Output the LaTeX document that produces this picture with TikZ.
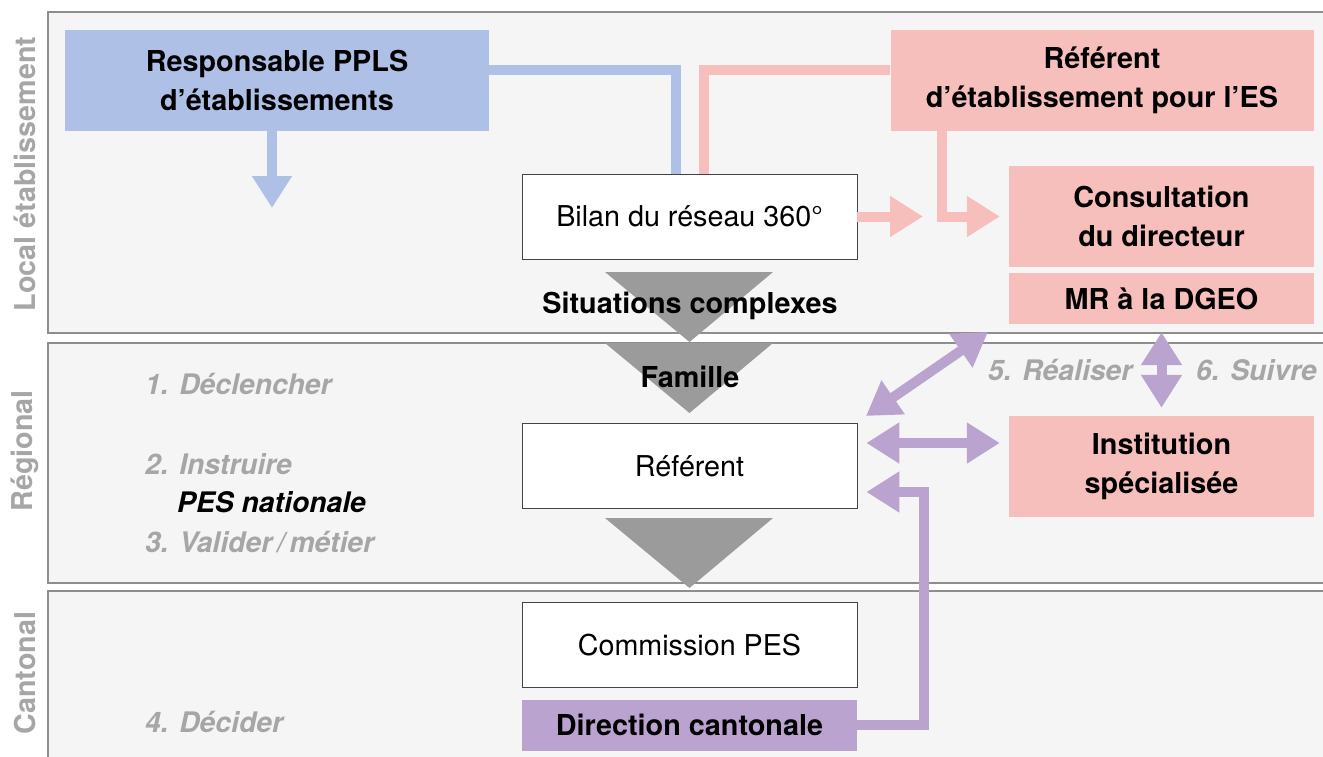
\documentclass[tikz,border=0pt]{standalone}
\usepackage{fontspec}
\setmainfont{TeX Gyre Heros}
\usetikzlibrary{arrows.meta}
\definecolor{bandfill}{HTML}{F5F5F5}
\definecolor{bandline}{HTML}{8E8E8E}
\definecolor{blueC}{HTML}{AFC0E6}
\definecolor{pinkC}{HTML}{F7BFBC}
\definecolor{purpC}{HTML}{BBA3CF}
\definecolor{triC}{HTML}{9B9B9B}
\definecolor{labC}{HTML}{A6A6A6}
\definecolor{boxline}{HTML}{444444}
\tikzset{
  band/.style={draw=bandline,line width=1.3pt},
  sidelab/.style={rotate=90,text=labC,font=\fontsize{28.7}{30}\selectfont\bfseries},
  steplab/.style={anchor=west,text=labC,font=\fontsize{28.3}{30}\selectfont\bfseries\itshape,inner sep=0pt},
  colbox/.style={inner sep=0pt,align=center,font=\fontsize{28.8}{38.5}\selectfont\bfseries},
  whitebox/.style={fill=white,draw=boxline,line width=0.8pt,inner sep=0pt,align=center,
     minimum width=335pt,minimum height=85pt,font=\fontsize{28.7}{32}\selectfont},
  funnel/.style={fill=triC},
  boldlab/.style={font=\fontsize{28.8}{32}\selectfont\bfseries,inner sep=0pt},
  tip/.tip={Triangle[length=33pt,width=39pt]},
  bluearrow/.style={draw=blueC,line width=10pt},
  pinkarrow/.style={draw=pinkC,line width=10pt},
  purparrow/.style={draw=purpC,line width=10pt},
}
\begin{document}
\begin{tikzpicture}[x=1pt,y=-1pt]
\useasboundingbox (0,0) rectangle (1323,756);
\clip (0,0) rectangle (1323,756);
% bands
\fill[bandfill] (48,12) rectangle (1330,333);
\fill[bandfill] (48,343) rectangle (1330,583);
\fill[bandfill] (48,591) rectangle (1330,770);
\draw[band] (1330,12) -- (48,12) -- (48,333) -- (1330,333);
\draw[band] (1330,343) -- (48,343) -- (48,583) -- (1330,583);
\draw[band] (1330,591) -- (48,591) -- (48,770);
\node[sidelab] (lloc) at (25,174) {Local établissement};
\node[sidelab] (lreg) at (25,451) {Régional};
\node[sidelab] (lcan) at (25,673) {Cantonal};
% colored boxes
\node[colbox,fill=blueC,minimum width=424pt,minimum height=101pt] (ppls) at (277,80.5) {Responsable PPLS\\d’établissements};
\node[colbox,fill=pinkC,minimum width=423pt,minimum height=101pt] (refes) at (1102,80.5) {Référent\\d’établissement pour l’ES};
\node[colbox,fill=pinkC,minimum width=305pt,minimum height=101pt] (consult) at (1161.5,216.5) {Consultation\\du directeur};
\node[colbox,fill=pinkC,minimum width=305pt,minimum height=51pt] (mr) at (1161.5,298.5) {MR à la DGEO};
\node[colbox,fill=pinkC,minimum width=305pt,minimum height=101pt] (inst) at (1161.5,466.5) {Institution\\spécialisée};
% white boxes
\node[whitebox] (bilan) at (689.5,216.5) {Bilan du réseau 360°};
\node[whitebox] (referent) at (689.5,466) {Référent};
\node[whitebox] (commission) at (689.5,645) {Commission PES};
\node[colbox,fill=purpC,minimum width=335pt,minimum height=51pt] (dir) at (689.5,725) {Direction cantonale};
% funnel triangles
\fill[funnel] (605,272) -- (773,272) -- (689.5,342) -- cycle;
\fill[funnel] (605,343) -- (773,343) -- (689.5,413) -- cycle;
\fill[funnel] (605,518) -- (773,518) -- (689.5,588) -- cycle;
\node[boldlab] (sit) at (690,306) {Situations complexes};
\node[boldlab] (fam) at (690,377) {Famille};
% step labels
\node[steplab] (s1) at (145,384) {1. Déclencher};
\node[steplab] (s2) at (145,464) {2. Instruire};
\node[steplab,text=black] (pes) at (177,502) {PES nationale};
\node[steplab] (s3) at (145,542) {3. Valider\,/\,métier};
\node[steplab] (s4) at (145,722) {4. Décider};
\node[steplab] (s5) at (988,370) {5. Réaliser};
\node[steplab] (s6) at (1196,370) {6. Suivre};
% blue connectors
\draw[bluearrow] ([yshift=10.5pt]ppls.east) -| ([xshift=-13.5pt]bilan.north);
\coordinate (bt) at (272,208);
\draw[bluearrow,-{Triangle[length=32pt,width=38pt]}] (ppls.south -| bt) -- (bt);
% pink connectors
\draw[pinkarrow] ([yshift=10.5pt]refes.west) -| ([xshift=14.5pt]bilan.north);
\draw[pinkarrow,-tip] ([xshift=-160pt]refes.south) |- ([xshift=-9pt]consult.west);
\coordinate (pt) at (923,216.5);
\draw[pinkarrow,-tip] (bilan.east) -- (pt);
% purple connectors
\coordinate (d1) at (866,416);
\coordinate (d2) at (988,332);
\draw[purparrow,tip-tip] (d1) -- (d2);
\draw[purparrow,tip-tip] ([yshift=-8pt]mr.south) -- ([yshift=8pt]inst.north);
\draw[purparrow,tip-tip] ([xshift=9pt,yshift=23pt]referent.east) -- ([xshift=-9pt,yshift=23.5pt]inst.west);
\coordinate (c1) at (924,492);
\draw[purparrow,-tip] (dir.east) -| (c1) -- ([xshift=9pt,yshift=-26pt]referent.east);
\end{tikzpicture}
\end{document}
